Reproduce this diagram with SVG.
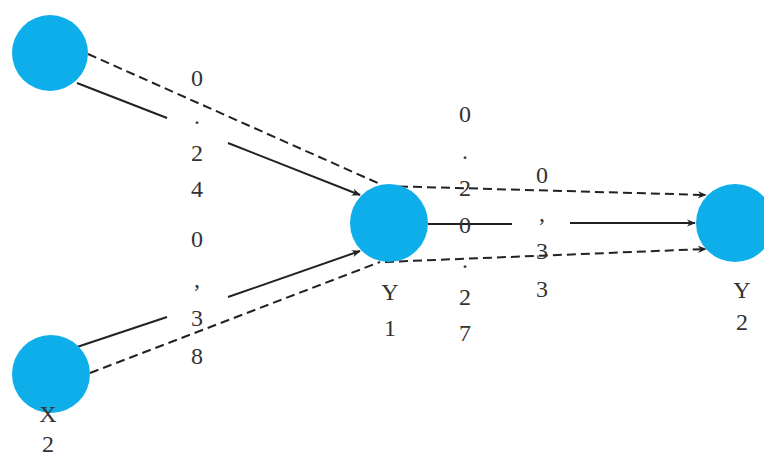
<svg xmlns="http://www.w3.org/2000/svg" width="764" height="458" viewBox="0 0 764 458">
<defs>
<style>
.node{fill:#0eaeea}
.lbl{font-family:"Liberation Serif","Times New Roman",serif;font-size:24px;fill:#333;text-anchor:middle}
.s{stroke:#222;stroke-width:2;fill:none}
.d{stroke:#222;stroke-width:2;fill:none;stroke-dasharray:9 5}
</style>
<marker id="ah" viewBox="0 0 10 10" refX="9" refY="5" markerWidth="9" markerHeight="9" orient="auto" markerUnits="userSpaceOnUse">
<path d="M0,1 L10,5 L0,9 L3,5 Z" fill="#222"/>
</marker>
</defs>
<rect width="764" height="458" fill="#fff"/>
<g id="connectors">
<line class="s" x1="77" y1="83" x2="167" y2="118"/>
<line class="s" x1="228" y1="143" x2="360" y2="195" marker-end="url(#ah)"/>
<line class="d" x1="88" y1="54" x2="380" y2="184"/>
<line class="s" x1="77" y1="347" x2="167" y2="317"/>
<line class="s" x1="228" y1="297" x2="360" y2="251" marker-end="url(#ah)"/>
<line class="d" x1="90" y1="373" x2="380" y2="262"/>
<line class="d" x1="385" y1="186" x2="706" y2="195" marker-end="url(#ah)"/>
<line class="s" x1="428" y1="224" x2="512" y2="224"/>
<line class="s" x1="570" y1="223" x2="695" y2="223" marker-end="url(#ah)"/>
<line class="d" x1="385" y1="262" x2="706" y2="249" marker-end="url(#ah)"/>
</g>
<g id="X1"><circle class="node" cx="50" cy="53" r="38"/></g>
<g id="X2"><circle class="node" cx="51" cy="374" r="39"/>
<text class="lbl" x="48" y="422">X</text><text class="lbl" x="48" y="452">2</text></g>
<g id="Y1"><circle class="node" cx="389" cy="223" r="39"/>
<text class="lbl" x="390" y="300">Y</text><text class="lbl" x="390" y="336">1</text></g>
<g id="Y2"><circle class="node" cx="735" cy="223" r="39"/>
<text class="lbl" x="742" y="298">Y</text><text class="lbl" x="742" y="330">2</text></g>
<g id="labels">
<text class="lbl" x="197" y="86">0</text><text class="lbl" x="197" y="124">.</text><text class="lbl" x="197" y="161">2</text><text class="lbl" x="197" y="197">4</text>
<text class="lbl" x="197" y="247">0</text><text class="lbl" x="197" y="287">,</text><text class="lbl" x="197" y="326">3</text><text class="lbl" x="197" y="364">8</text>
<text class="lbl" x="465" y="122">0</text><text class="lbl" x="465" y="159">.</text><text class="lbl" x="465" y="196">2</text><text class="lbl" x="465" y="233">0</text><text class="lbl" x="465" y="268">.</text><text class="lbl" x="465" y="305">2</text><text class="lbl" x="465" y="341">7</text>
<text class="lbl" x="542" y="183">0</text><text class="lbl" x="542" y="221">,</text><text class="lbl" x="542" y="259">3</text><text class="lbl" x="542" y="297">3</text>
</g>
</svg>
